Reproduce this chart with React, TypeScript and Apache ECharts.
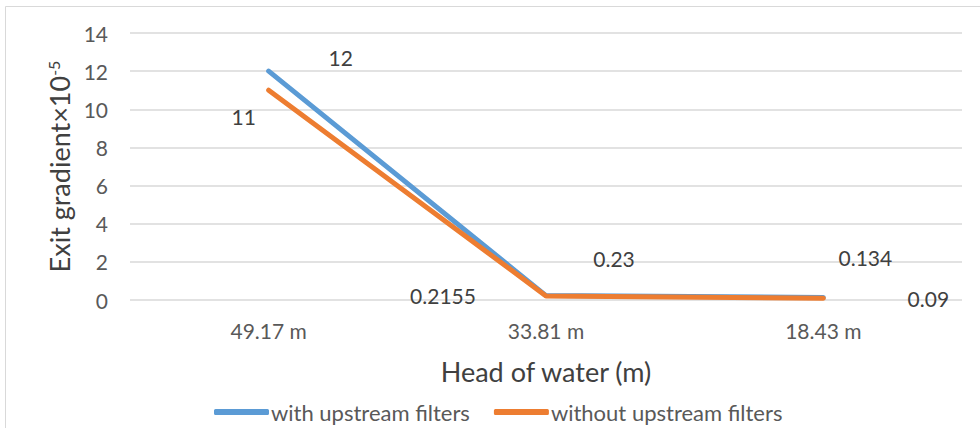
import React, { useEffect, useRef } from "react";
import * as echarts from "echarts";

const categories = ["49.17 m", "33.81 m", "18.43 m"];
const withFilters = [12, 0.23, 0.134];
const withoutFilters = [11, 0.2155, 0.09];
const withLabelOffsets = [[72, -14], [68, -37], [42, -40]];
const withoutLabelOffsets = [[-25, 26], [-103, 0], [105, 0]];

const FONT = "Lato";
const TXT = "#595959";

export default function App() {
  const ref = useRef<HTMLDivElement>(null);
  useEffect(() => {
    const chart = echarts.init(ref.current!, null, { renderer: "svg" });
    const mk = (vals: number[], offs: number[][]) =>
      vals.map((v, i) => ({
        value: v,
        label: { offset: offs[i] },
      }));
    const labelStyle = {
      show: true,
      position: "inside",
      color: "#404040",
      fontSize: 21,
      fontFamily: FONT,
    };
    chart.setOption({
      animation: false,
      backgroundColor: "#fff",
      textStyle: { fontFamily: FONT },
      graphic: [
        {
          type: "rect",
          shape: { x: 5.5, y: 6.5, width: 1000, height: 500 },
          style: { fill: "none", stroke: "#d9d9d9", lineWidth: 1 },
          silent: true,
        },
      ],
      grid: { left: 130, right: 18, top: 33, bottom: 128 },
      legend: {
        left: 209,
        top: 396,
        itemWidth: 55,
        itemHeight: 6,
        itemGap: 24,
        icon: "roundRect",
        textStyle: { fontSize: 22, color: TXT, fontFamily: FONT, padding: [0, 0, 0, -3] },
        data: ["with upstream filters", "without upstream filters"],
      },
      xAxis: {
        type: "category",
        data: categories,
        boundaryGap: true,
        axisLine: { show: false },
        axisTick: { show: false },
        axisLabel: { fontSize: 21, color: TXT, margin: 20, fontFamily: FONT },
        name: "Head of water (m)",
        nameLocation: "middle",
        nameGap: 58,
        nameTextStyle: { fontSize: 27, color: "#404040", fontFamily: FONT },
      },
      yAxis: {
        type: "value",
        min: 0,
        max: 14,
        interval: 2,
        axisLine: { show: false },
        axisTick: { show: false },
        splitLine: { lineStyle: { color: "#d9d9d9", width: 1.5 } },
        axisLabel: { fontSize: 21, color: TXT, margin: 22, fontFamily: FONT },
        name: "Exit gradient×10{sup|-5}",
        nameLocation: "middle",
        nameGap: 54,
        nameRotate: 90,
        nameTextStyle: {
          fontSize: 27,
          color: "#404040",
          fontFamily: FONT,
          rich: {
            sup: { fontSize: 16, color: "#404040", fontFamily: FONT, verticalAlign: "top", padding: [0, 0, 12, 0] },
          },
        },
      },
      series: [
        {
          name: "with upstream filters",
          type: "line",
          data: mk(withFilters, withLabelOffsets),
          color: "#5B9BD5",
          lineStyle: { width: 5, cap: "round" },
          symbol: "circle",
          symbolSize: 0,
          showSymbol: true,
          label: labelStyle,
        },
        {
          name: "without upstream filters",
          type: "line",
          data: mk(withoutFilters, withoutLabelOffsets),
          color: "#ED7D31",
          lineStyle: { width: 5, cap: "round" },
          symbol: "circle",
          symbolSize: 0,
          showSymbol: true,
          label: labelStyle,
        },
      ],
    });
    return () => chart.dispose();
  }, []);
  return <div ref={ref} style={{ width: 980, height: 428, position: "absolute", left: 0, top: 0 }} />;
}
